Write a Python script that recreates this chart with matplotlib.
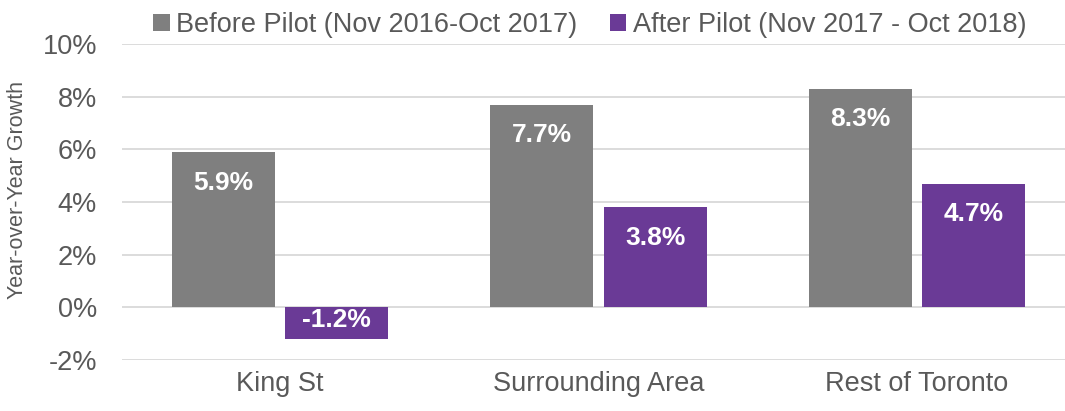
import matplotlib.pyplot as plt
import numpy as np

plt.rcParams['font.family'] = ['Liberation Sans', 'DejaVu Sans']

categories = ['King St', 'Surrounding Area', 'Rest of Toronto']
before_vals = [5.9, 7.7, 8.3]
after_vals = [-1.2, 3.8, 4.7]
series_names = ['Before Pilot (Nov 2016-Oct 2017)', 'After Pilot (Nov 2017 - Oct 2018)']
yticks = [-2, 0, 2, 4, 6, 8, 10]

gray = '#7f7f7f'
purple = '#6a3a96'
text_col = '#595959'

fig = plt.figure(figsize=(10.65, 4.11), dpi=100)
ax = fig.add_axes([122 / 1065, 51 / 411, 1 - 122 / 1065, 316 / 411])

x = np.arange(len(categories))
w = 0.323
off = 0.178
b1 = ax.bar(x - off, before_vals, w, color=gray, label=series_names[0], zorder=3)
b2 = ax.bar(x + off, after_vals, w, color=purple, label=series_names[1], zorder=3)

for bars, vals in [(b1, before_vals), (b2, after_vals)]:
    for rect, v in zip(bars, vals):
        cx = rect.get_x() + rect.get_width() / 2
        if v >= 0:
            ax.annotate(f'{v:.1f}%', (cx, v), xytext=(0, -22), textcoords='offset points',
                        ha='center', va='center', color='white', fontsize=19, fontweight='bold', zorder=4)
        else:
            ax.annotate(f'{v:.1f}%', (cx, v / 2), xytext=(0, 2), textcoords='offset points',
                        ha='center', va='center', color='white', fontsize=19, fontweight='bold', zorder=4)

ax.set_xlim(-0.496, 2.465)
ax.set_ylim(-2, 10)
ax.set_yticks(yticks)
ax.set_yticklabels([f'{t}%' for t in yticks])
ax.set_xticks(x)
ax.set_xticklabels(categories)
ax.grid(axis='y', color='#d9d9d9', linewidth=1.3, zorder=0)
ax.tick_params(axis='both', length=0, labelsize=19.5, labelcolor=text_col)
ax.tick_params(axis='y', pad=18)
ax.tick_params(axis='x', pad=8)
for s in ax.spines.values():
    s.set_visible(False)
ax.set_ylabel('Year-over-Year Growth', fontsize=15.5, color=text_col)
ax.yaxis.set_label_coords(-0.0997, 0.538)

fig.legend(loc='upper center', bbox_to_anchor=(590 / 1065, 1.0), ncol=2, frameon=False,
           fontsize=19.5, labelcolor=text_col, handlelength=0.6, handleheight=0.6,
           handletextpad=0.25, columnspacing=1.2, borderaxespad=0.05)

fig.savefig('out.png', dpi=100)
